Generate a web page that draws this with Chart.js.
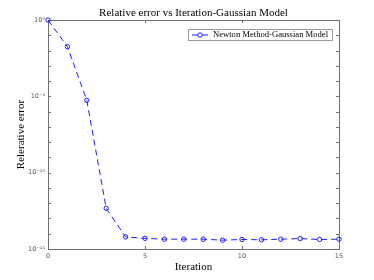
<!DOCTYPE html>
<html>
<head>
<meta charset="utf-8">
<script src="https://cdn.jsdelivr.net/npm/chart.js@4/dist/chart.umd.min.js"></script>
<style>
  html, body { margin: 0; padding: 0; background: #fff; }
  #wrap { width: 374px; height: 280px; }
</style>
</head>
<body>
<div id="wrap"><canvas id="chart" width="374" height="280"></canvas></div>
<script>
// Données
const iterations = [0, 1, 2, 3, 4, 5, 6, 7, 8, 9, 10, 11, 12, 13, 14, 15];
const relErrors = [1, 1.8e-2, 5.5e-6, 4.6e-13, 6.2e-15, 5.0e-15, 4.4e-15, 4.4e-15,
                   4.4e-15, 3.8e-15, 4.2e-15, 4.0e-15, 4.4e-15, 4.8e-15, 4.2e-15, 4.4e-15];
const xTicks = [0, 5, 10, 15];
const yDecades = [0, -1, -2, -3, -4, -5, -6, -7, -8, -9, -10, -11, -12, -13, -14, -15];
const yLabelExps = [0, -5, -10, -15];
const yLabelText = ['10⁰', '10⁻⁵', '10⁻¹⁰', '10⁻¹⁵'];

const seriesLabel = 'Newton Method-Gaussian Model';
const chartTitle = 'Relative error vs Iteration-Gaussian Model';
const axisColor = '#707070';
const lineColor = 'rgb(30,30,255)';
const serif = "'Liberation Serif', 'DejaVu Serif', serif";
const tickFont = "'DejaVu Sans', sans-serif";

// Ticks vers l'intérieur + cadre complet (style MATLAB)
const boxPlugin = {
    id: 'boxPlugin',
    beforeDatasetsDraw(chart) {
        const ctx = chart.ctx;
        const a = chart.chartArea;
        const xs = chart.scales.x;
        const ys = chart.scales.y;
        ctx.save();
        ctx.setLineDash([]);
        ctx.strokeStyle = axisColor;
        ctx.lineWidth = 1;
        ctx.beginPath();
        ctx.rect(Math.round(a.left) + 0.5, Math.round(a.top) + 0.5,
                 Math.round(a.right - a.left), Math.round(a.bottom - a.top));
        xs.ticks.forEach(t => {
            const px = Math.round(xs.getPixelForValue(t.value)) + 0.5;
            ctx.moveTo(px, a.bottom); ctx.lineTo(px, a.bottom - 3);
            ctx.moveTo(px, a.top); ctx.lineTo(px, a.top + 3);
        });
        ys.ticks.forEach(t => {
            const py = Math.round(ys.getPixelForValue(t.value)) + 0.5;
            ctx.moveTo(a.left, py); ctx.lineTo(a.left + 3, py);
            ctx.moveTo(a.right, py); ctx.lineTo(a.right - 3, py);
        });
        ctx.stroke();

        // Titre
        ctx.fillStyle = '#000';
        ctx.font = '11px ' + serif;
        ctx.textAlign = 'center';
        ctx.textBaseline = 'middle';
        ctx.fillText(chartTitle, (a.left + a.right) / 2, 13);
        ctx.restore();
    },
    afterDraw(chart) {
        const ctx = chart.ctx;
        ctx.save();
        ctx.setLineDash([]);
        ctx.lineWidth = 1;
        ctx.textBaseline = 'middle';

        // Légende
        const lx = 188, ly = 29, lw = 144, lh = 11;
        ctx.fillStyle = '#fff';
        ctx.fillRect(lx, ly, lw, lh);
        ctx.strokeStyle = '#9a9a9a';
        ctx.strokeRect(lx + 0.5, ly + 0.5, lw, lh);
        const cy = ly + lh / 2 + 0.5;
        ctx.strokeStyle = lineColor;
        ctx.beginPath();
        ctx.moveTo(lx + 4, cy); ctx.lineTo(lx + 20, cy);
        ctx.stroke();
        ctx.beginPath();
        ctx.arc(lx + 12, cy, 2.2, 0, Math.PI * 2);
        ctx.fillStyle = '#fff';
        ctx.fill();
        ctx.stroke();
        ctx.fillStyle = '#000';
        ctx.font = '8.6px ' + serif;
        ctx.textAlign = 'left';
        ctx.fillText(seriesLabel, lx + 25, cy);
        ctx.restore();
    }
};

const points = iterations.map((it, i) => ({ x: it, y: relErrors[i] }));

new Chart(document.getElementById('chart'), {
    type: 'line',
    data: {
        datasets: [{
            label: seriesLabel,
            data: points,
            borderColor: lineColor,
            borderWidth: 1,
            borderDash: [6, 4],
            pointRadius: 2.2,
            pointBorderWidth: 1,
            pointBackgroundColor: 'rgba(255,255,255,0)',
            pointBorderColor: lineColor,
            pointHoverRadius: 2.2,
            tension: 0,
            fill: false,
            clip: false
        }]
    },
    options: {
        responsive: false,
        animation: false,
        events: [],
        layout: { padding: { top: 20, right: 35, left: 0, bottom: 0 } },
        plugins: {
            legend: { display: false },
            title: { display: false },
            tooltip: { enabled: false }
        },
        scales: {
            x: {
                type: 'linear',
                min: 0,
                max: 15,
                afterBuildTicks: scale => { scale.ticks = xTicks.map(v => ({ value: v })); },
                afterFit: scale => { scale.height = 31; },
                grid: { display: false, drawTicks: false },
                border: { display: false },
                ticks: {
                    color: '#555',
                    padding: 3,
                    maxRotation: 0,
                    font: { family: tickFont, size: 6.5 },
                    callback: v => String(v)
                },
                title: {
                    display: true,
                    text: 'Iteration',
                    color: '#000',
                    font: { family: serif, size: 11 },
                    padding: { top: 0, bottom: 6 }
                }
            },
            y: {
                type: 'logarithmic',
                min: 1e-15,
                max: 1,
                afterBuildTicks: scale => { scale.ticks = yDecades.map(e => ({ value: Math.pow(10, e) })); },
                afterFit: scale => { scale.width = 48; },
                grid: { display: false, drawTicks: false },
                border: { display: false },
                ticks: {
                    color: '#555',
                    padding: 3,
                    autoSkip: false,
                    font: { family: tickFont, size: 6.5 },
                    callback: v => {
                        const e = Math.round(Math.log10(v));
                        const k = yLabelExps.indexOf(e);
                        return k >= 0 ? yLabelText[k] : '';
                    }
                },
                title: {
                    display: true,
                    text: 'Relerative error',
                    color: '#000',
                    font: { family: serif, size: 11 },
                    padding: { top: 15, bottom: 0 }
                }
            }
        }
    },
    plugins: [boxPlugin]
});
</script>
</body>
</html>
